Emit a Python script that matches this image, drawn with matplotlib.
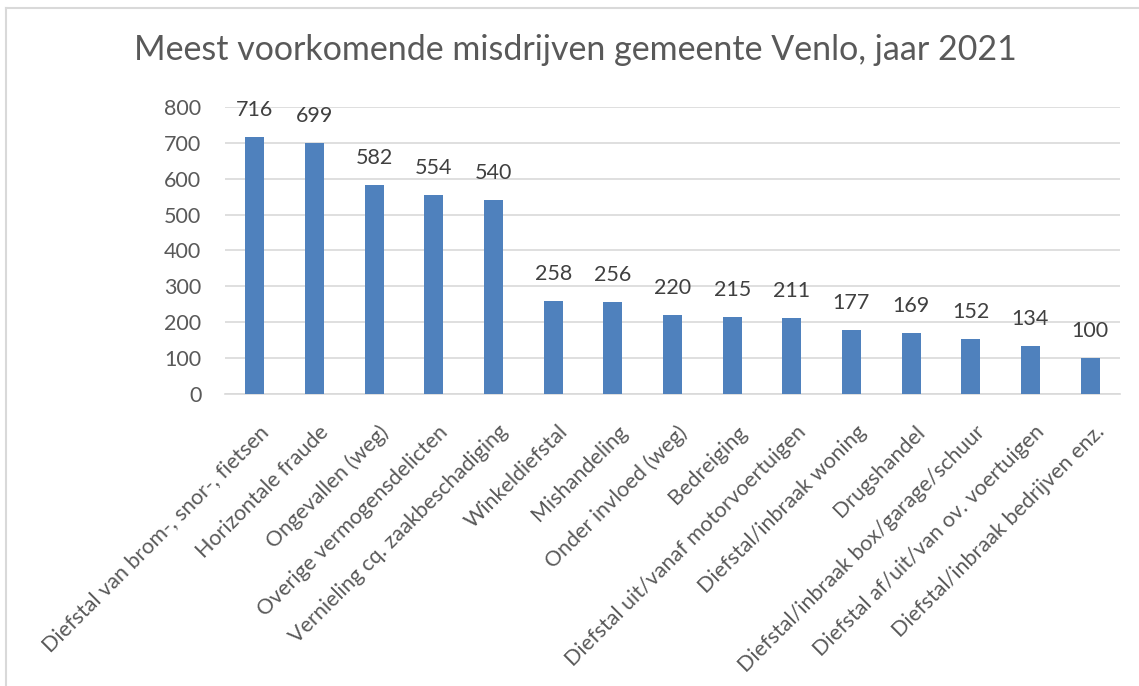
import numpy as np
import matplotlib
matplotlib.use('Agg')
from matplotlib import pyplot as plt
from matplotlib.lines import Line2D
from matplotlib.transforms import ScaledTranslation

categories = ['Diefstal van brom-, snor-, fietsen', 'Horizontale fraude', 'Ongevallen (weg)',
              'Overige vermogensdelicten', 'Vernieling cq. zaakbeschadiging', 'Winkeldiefstal',
              'Mishandeling', 'Onder invloed (weg)', 'Bedreiging',
              'Diefstal uit/vanaf motorvoertuigen', 'Diefstal/inbraak woning', 'Drugshandel',
              'Diefstal/inbraak box/garage/schuur', 'Diefstal af/uit/van ov. voertuigen',
              'Diefstal/inbraak bedrijven enz.']
values = [716, 699, 582, 554, 540, 258, 256, 220, 215, 211, 177, 169, 152, 134, 100]
yticks = [0, 100, 200, 300, 400, 500, 600, 700, 800]
title = 'Meest voorkomende misdrijven gemeente Venlo, jaar 2021'

plt.rcParams['font.family'] = ['Lato', 'DejaVu Sans']
grey = '#595959'

fig = plt.figure(figsize=(11.39, 6.86), dpi=100)
ax = fig.add_axes([0.1975, 0.4257, 0.7858, 0.4183])

x = np.arange(len(categories))
bars = ax.bar(x, values, width=0.32, color='#4F81BD', zorder=3)
for b, v in zip(bars, values):
    ax.annotate(str(v), (b.get_x() + b.get_width() / 2, v), xytext=(0, 19.5),
                textcoords='offset points', ha='center', va='center',
                fontsize=15.5, color='#404040')

ax.set_xlim(-0.5, len(categories) - 0.5)
ax.set_ylim(0, 800)
ax.set_yticks(yticks)
ax.yaxis.grid(True, color='#D9D9D9', linewidth=1.2, zorder=0)
ax.tick_params(axis='y', length=0, labelsize=15.5, labelcolor=grey, pad=17)
ax.tick_params(axis='x', length=0, pad=20)
ax.set_xticks(x)
ax.set_xticklabels(categories, rotation=45, ha='right', rotation_mode='anchor',
                   fontsize=15.5, color=grey)
shift = ScaledTranslation(4 / 100, 0, fig.dpi_scale_trans)
for lbl in ax.get_xticklabels():
    lbl.set_transform(lbl.get_transform() + shift)
for s in ['top', 'right', 'left']:
    ax.spines[s].set_visible(False)
ax.spines['bottom'].set_color('#D9D9D9')
ax.spines['bottom'].set_linewidth(1.2)

fig.text(0.505, 0.927, title, ha='center', va='center', fontsize=24.5, color=grey)

# chart border
fig.add_artist(Line2D([0.005, 0.005], [0.0, 0.988], color='#D9D9D9', lw=1.5,
                      transform=fig.transFigure))
fig.add_artist(Line2D([0.005, 1.0], [0.988, 0.988], color='#D9D9D9', lw=1.5,
                      transform=fig.transFigure))

fig.savefig('out.png', dpi=100)
